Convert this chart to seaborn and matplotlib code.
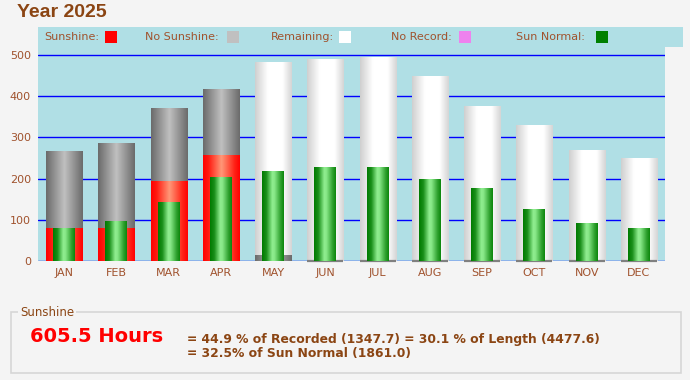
import numpy as np
import pandas as pd
import matplotlib
matplotlib.use("Agg")
import matplotlib.pyplot as plt
import seaborn as sns
from matplotlib.colors import LinearSegmentedColormap
from matplotlib.patches import Rectangle

# ---------------- data ----------------
months = ["JAN", "FEB", "MAR", "APR", "MAY", "JUN", "JUL", "AUG", "SEP", "OCT", "NOV", "DEC"]
day_length = [265, 284, 369, 416, 481, 490, 493, 447, 376, 330, 267, 248]
recorded = [265, 284, 369, 416, 13.7, 0, 0, 0, 0, 0, 0, 0]
sunshine = [78.5, 78.0, 194.0, 255.0, 0, 0, 0, 0, 0, 0, 0, 0]
sun_normal = [80.0, 94.7, 140.8, 201.5, 218.4, 228.0, 228.0, 196.6, 174.8, 126.0, 92.0, 77.7]
y_ticks = [0, 100, 200, 300, 400, 500]

legend_labels = ["Sunshine:", "No Sunshine:", "Remaining:", "No Record:", "Sun Normal:"]
legend_colors = ["#ff0000", "#c0c0c0", "#ffffff", "#ee82ee", "#008000"]

title = "Year 2025"
total_text = "605.5 Hours"
summary_1 = "= 44.9 % of Recorded (1347.7) = 30.1 % of Length (4477.6)"
summary_2 = "= 32.5% of Sun Normal (1861.0)"

# ---------------- style ----------------
sns.set_theme(style="white")
plt.rcParams["font.family"] = ["DejaVu Sans"]

BG = "#f4f4f4"
PLOT_BG = "#b0dfe5"
BROWN = "#8b4513"
TICK = "#a0522d"

W, H = 690, 380
fig = plt.figure(figsize=(W / 100, H / 100), dpi=100, facecolor=BG)


def fx(px):
    return px / W


def fy(py):
    return 1 - py / H


ax = fig.add_axes([fx(38), fy(261), fx(665) - fx(38), fy(47) - fy(261)])
ax.set_facecolor(PLOT_BG)

df = pd.DataFrame(dict(month=months, length=day_length, recorded=recorded,
                       sun=sunshine, normal=sun_normal))


def grad_bars(col, width, stops, z):
    n0 = len(ax.patches)
    sns.barplot(data=df, x="month", y=col, order=months, width=width,
                color="white", errorbar=None, ax=ax, zorder=z)
    cmap = LinearSegmentedColormap.from_list(col, stops)
    img = cmap(np.linspace(0, 1, 256))[None, :, :3]
    new = list(ax.patches[n0:])
    for p in new:
        h = p.get_height()
        p.set_visible(False)
        if h <= 0:
            continue
        x, y, w = p.get_x(), p.get_y(), p.get_width()
        ax.imshow(img, extent=[x, x + w, y, y + h], aspect="auto",
                  interpolation="bilinear", zorder=z)
    return new


white_stops = [(0, "#cfcfcf"), (0.35, "#ffffff"), (0.75, "#ffffff"), (1, "#d4d4d4")]
gray_stops = [(0, "#6a6a6a"), (0.5, "#c0c0c0"), (1, "#6a6a6a")]
red_stops = [(0, "#ff0000"), (0.15, "#ff1a10"), (0.5, "#ff9878"), (0.85, "#ff2418"), (1, "#ff0000")]
green_stops = [(0, "#007a00"), (0.2, "#1a8f1a"), (0.47, "#90ee90"), (0.57, "#88e888"),
               (0.85, "#2ea02e"), (1, "#0b860b")]

white_p = grad_bars("length", 0.69, white_stops, 2)
for i, p in enumerate(white_p):
    if recorded[i] == 0:
        ax.plot([p.get_x(), p.get_x() + p.get_width()], [0, 0], color="#808080",
                lw=1.6, zorder=2.5, solid_capstyle="butt", clip_on=False)
grad_bars("recorded", 0.69, gray_stops, 3)
grad_bars("sun", 0.69, red_stops, 4)
grad_bars("normal", 0.42, green_stops, 5)

ax.set_xlim(-0.5, 11.5)
ax.set_ylim(0, 519.4)
ax.set_yticks(y_ticks)
ax.set_yticklabels([str(v) for v in y_ticks])
ax.yaxis.grid(True, color="#0000ff", lw=1.0)
ax.xaxis.grid(False)
ax.set_axisbelow(True)
ax.set_xlabel("")
ax.set_ylabel("")
ax.tick_params(axis="both", length=0, labelsize=8, labelcolor=TICK)
ax.tick_params(axis="x", pad=5)
ax.tick_params(axis="y", pad=5)
for s in ax.spines.values():
    s.set_visible(False)

# legend band
fig.patches.append(Rectangle((fx(38), fy(47)), fx(683) - fx(38), fy(27) - fy(47),
                             transform=fig.transFigure, facecolor=PLOT_BG,
                             edgecolor="none", zorder=0))
text_x = [44, 145, 271, 391, 516]
box_x = [105, 227, 339, 459, 596]
for lab, tx, bx, c in zip(legend_labels, text_x, box_x, legend_colors):
    fig.text(fx(tx), fy(37), lab, fontsize=8, color=TICK, va="center", ha="left")
    fig.patches.append(Rectangle((fx(bx), fy(43)), fx(12), 12 / H,
                                 transform=fig.transFigure, facecolor=c,
                                 edgecolor="none", zorder=2))

# title
fig.text(fx(17), fy(12.5), title, fontsize=14, fontweight="bold", color=BROWN,
         family=["Liberation Sans"], va="center", ha="left")

# summary box
fig.patches.append(Rectangle((fx(11), fy(373)), fx(681) - fx(11), fy(312) - fy(373),
                             transform=fig.transFigure, facecolor="none",
                             edgecolor="#d6d6d6", lw=1.2, zorder=1))
fig.text(fx(20), fy(312.5), "Sunshine", fontsize=8.5, color=BROWN, va="center",
         ha="left", bbox=dict(facecolor=BG, edgecolor="none", pad=1.2), zorder=3)
fig.text(fx(30), fy(337), total_text, fontsize=14, fontweight="bold",
         color="#ff0000", va="center", ha="left")
fig.text(fx(187), fy(339), summary_1, fontsize=8.9, fontweight="bold",
         color=BROWN, va="center", ha="left")
fig.text(fx(187), fy(353), summary_2, fontsize=8.9, fontweight="bold",
         color=BROWN, va="center", ha="left")

fig.savefig("out.png", dpi=100, facecolor=BG)
